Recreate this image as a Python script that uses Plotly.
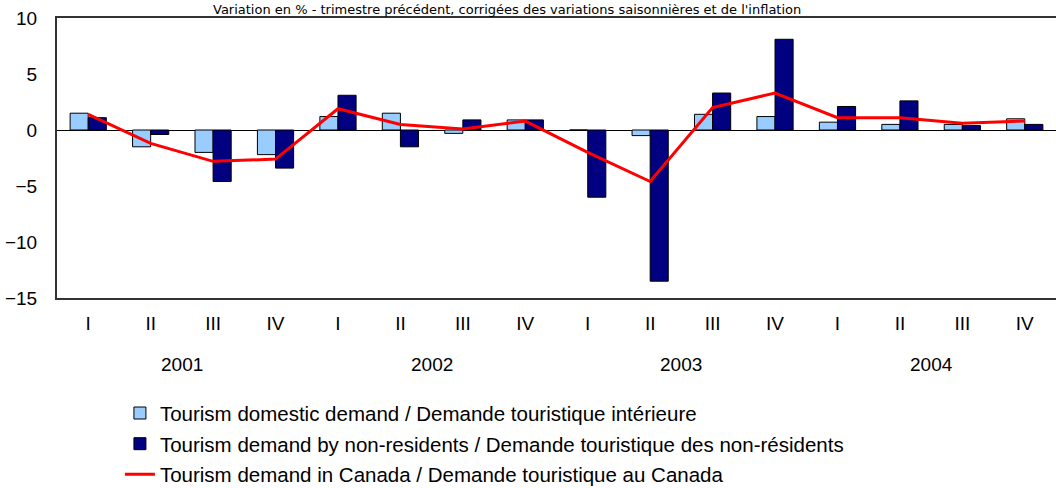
import plotly.graph_objects as go

quarters = ["I", "II", "III", "IV"] * 4
years = ["2001", "2002", "2003", "2004"]
domestic = [1.5, -1.5, -2.0, -2.2, 1.2, 1.5, -0.3, 0.9, 0.0, -0.5, 1.4, 1.2, 0.7, 0.5, 0.5, 1.0]
non_residents = [1.1, -0.4, -4.6, -3.4, 3.1, -1.5, 0.9, 0.9, -6.0, -13.5, 3.3, 8.1, 2.1, 2.6, 0.4, 0.5]
canada = [1.4, -1.2, -2.8, -2.6, 1.9, 0.5, 0.1, 0.8, -2.0, -4.6, 2.0, 3.3, 1.1, 1.1, 0.6, 0.8]

names = [
    "Tourism domestic demand / Demande touristique intérieure",
    "Tourism demand by non-residents / Demande touristique des non-résidents",
    "Tourism demand in Canada / Demande touristique au Canada",
]
subtitle = "Variation en % - trimestre précédent, corrigées des variations saisonnières et de l'inflation"

x = list(range(len(quarters)))
FONT = "Liberation Sans, Arial, sans-serif"

fig = go.Figure()
fig.add_trace(go.Bar(x=x, y=domestic, name=names[0], legendgroup="a",
                     marker=dict(color="#99CCFF", line=dict(color="#000000", width=1))))
fig.add_trace(go.Bar(x=x, y=non_residents, name=names[1], legendgroup="b",
                     marker=dict(color="#000080", line=dict(color="#000000", width=1))))
fig.add_trace(go.Scatter(x=x, y=canada, name=names[2], legendgroup="c", mode="lines",
                         line=dict(color="#FF0000", width=3)))

for i, yr in enumerate(years):
    fig.add_annotation(x=i * 4 + 1.5, y=-0.236, xref="x", yref="paper", text=yr,
                       showarrow=False, yanchor="middle",
                       font=dict(family=FONT, size=19, color="#000"))

fig.add_annotation(x=0.45, y=1.064, xref="paper", yref="paper", text=subtitle,
                   showarrow=False, yanchor="top",
                   font=dict(family="DejaVu Sans, sans-serif", size=13, color="#000"))

fig.update_layout(
    width=1056, height=488,
    margin=dict(l=57, r=0, t=18, b=190, autoexpand=False),
    paper_bgcolor="white", plot_bgcolor="white",
    barmode="group", bargap=0.42, bargroupgap=0,
    font=dict(family=FONT, size=19, color="#000"),
    legend=dict(x=0.063, y=-0.34, xanchor="left", yanchor="top",
                traceorder="grouped", tracegroupgap=1,
                font=dict(family=FONT, size=20.5, color="#000")),
    showlegend=True,
)
fig.update_xaxes(range=[-0.5, 15.5], tickvals=x, ticktext=quarters,
                 showgrid=False, zeroline=False, showline=True, mirror=True,
                 linecolor="#333333", linewidth=2, ticks="", ticklabelstandoff=7,
                 tickfont=dict(size=19))
fig.update_yaxes(range=[-15, 10], tickvals=[-15, -10, -5, 0, 5, 10],
                 showgrid=False, zeroline=True, zerolinecolor="#000000", zerolinewidth=1,
                 showline=True, mirror=False, linecolor="#333333", linewidth=2,
                 ticks="", ticklabelstandoff=14, tickfont=dict(size=19))

fig.write_html("out.html", config={"displayModeBar": False},
               post_script="document.body.style.margin='0';")
